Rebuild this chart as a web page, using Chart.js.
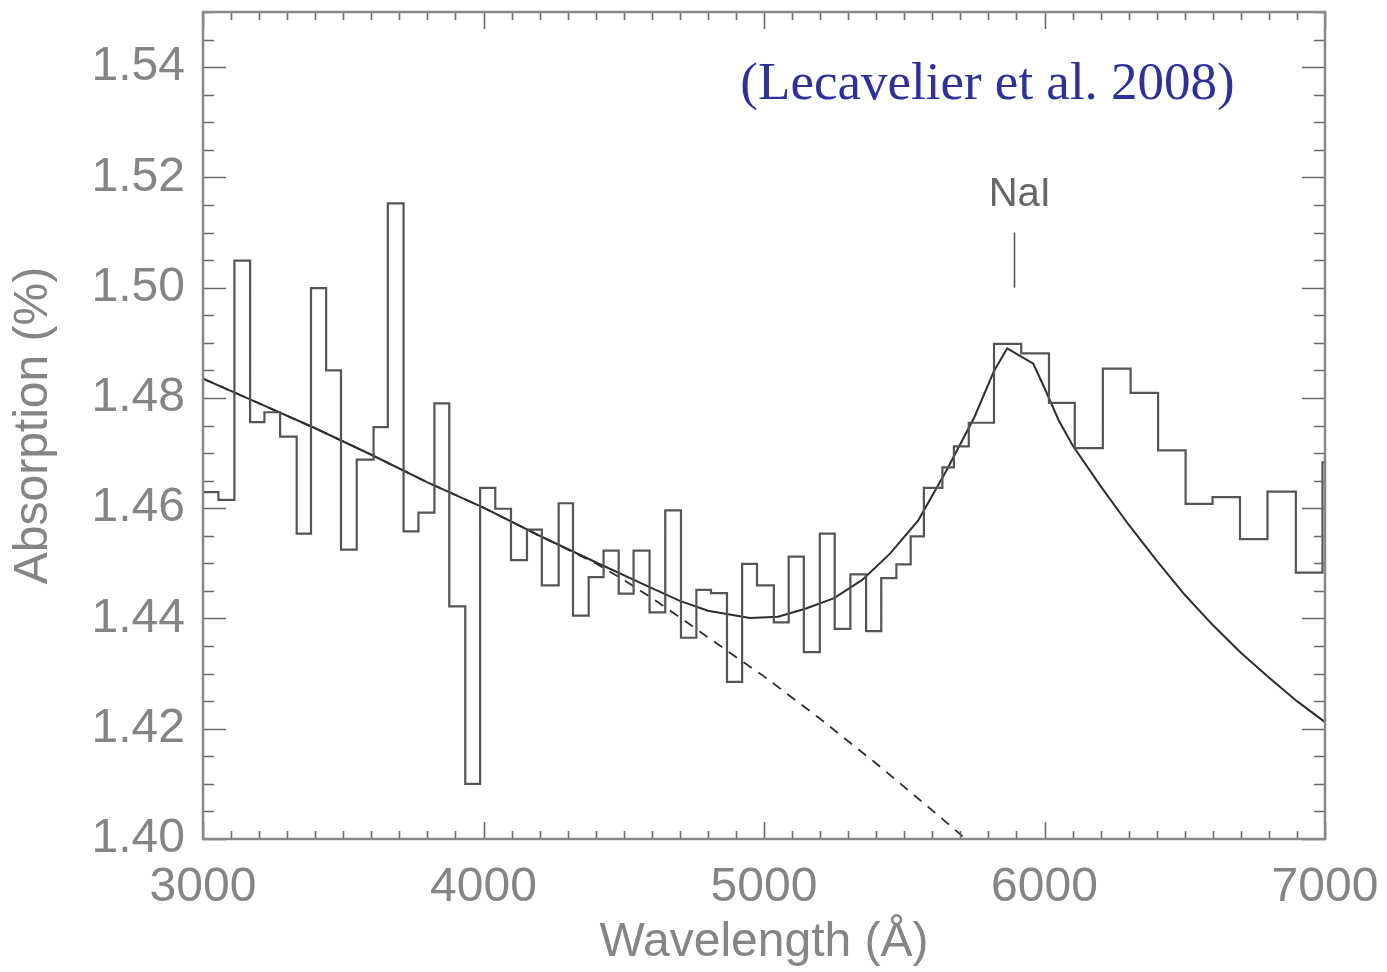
<!DOCTYPE html>
<html>
<head>
<meta charset="utf-8">
<script src="https://cdn.jsdelivr.net/npm/chart.js@4/dist/chart.umd.min.js"></script>
<style>
html, body { margin: 0; padding: 0; background: #fff; }
</style>
</head>
<body>
<canvas id="canvasAbs" width="1387" height="972"></canvas>
<script>
"use strict";

// observed spectrum: bin edges (Angstrom) and absorption per bin (%)
var binEdges = [2945, 2998, 3055, 3112, 3168, 3219, 3275, 3334, 3385, 3439, 3492,
	3548, 3608, 3659, 3715, 3768, 3825, 3878, 3935, 3988, 4042,
	4098, 4155, 4208, 4268, 4319, 4375, 4428, 4482, 4535, 4592,
	4648, 4704, 4759, 4811, 4868, 4922, 4975, 5035, 5088, 5142,
	5199, 5252, 5308, 5364, 5418, 5472, 5523, 5570, 5636, 5677,
	5730, 5820, 5917, 6016, 6108, 6208, 6307, 6405, 6503, 6599,
	6697, 6795, 6896, 6991, 7050];
var binValues = [1.4452, 1.4629, 1.4615, 1.5049, 1.4756, 1.4774, 1.4730, 1.4554, 1.4999, 1.4850,
	1.4525, 1.4688, 1.4747, 1.5153, 1.4558, 1.4592, 1.4790, 1.4422, 1.4100, 1.4637,
	1.4599, 1.4506, 1.4561, 1.4460, 1.4609, 1.4405, 1.4475, 1.4523, 1.4445, 1.4523,
	1.4411, 1.4596, 1.4365, 1.4452, 1.4446, 1.4285, 1.4499, 1.4460, 1.4393, 1.4512,
	1.4339, 1.4554, 1.4381, 1.4480, 1.4377, 1.4473, 1.4498, 1.4549, 1.4637, 1.4674,
	1.4712, 1.4755, 1.4898, 1.4881, 1.4791, 1.4709, 1.4853, 1.4809, 1.4705, 1.4608,
	1.4620, 1.4544, 1.4630, 1.4483, 1.4683];

// model with Na I (solid)
var modelWave = [3000, 3200, 3400, 3600, 3800, 4000, 4200, 4400, 4600, 4700,
	4800, 4950, 5050, 5150, 5250, 5350, 5450, 5550, 5650, 5750,
	5820, 5867, 5960, 6000, 6050, 6100, 6200, 6300, 6400, 6500,
	6600, 6700, 6800, 6900, 7000];
var modelAbs = [1.4835, 1.4790, 1.4745, 1.4697, 1.4647, 1.4601, 1.4550, 1.4502, 1.4455, 1.4432,
	1.4414, 1.4401, 1.4403, 1.4418, 1.4437, 1.4470, 1.4518, 1.4578, 1.4668, 1.4765,
	1.4849, 1.4890, 1.4862, 1.4818, 1.4760, 1.4714, 1.4640, 1.4570, 1.4505, 1.4443,
	1.4388, 1.4338, 1.4293, 1.4250, 1.4212];

// model without Na I (dashed)
var noNaWave = [3000, 3200, 3400, 3600, 3800, 4000, 4200, 4400, 4500, 4600,
	4700, 4800, 4900, 5000, 5200, 5400, 5600, 5800];
var noNaAbs = [1.4835, 1.4790, 1.4745, 1.4697, 1.4647, 1.4601, 1.4550, 1.4500, 1.4470, 1.4437,
	1.4402, 1.4366, 1.4330, 1.4295, 1.4218, 1.4137, 1.4052, 1.3965];

var xTickValues = [3000, 4000, 5000, 6000, 7000];
var yTickValues = [1.40, 1.42, 1.44, 1.46, 1.48, 1.50, 1.52, 1.54];

var lineLabel = 'NaI';
var lineWave = 5890;
var refText = '(Lecavelier et al. 2008)';

function ToPoints(xs, ys) {
	var pts = [];
	for (var i = 0; i < ys.length; i++) {
		pts.push({ x: xs[i], y: ys[i] });
	}
	return pts;
}

function HistPoints(edges, values) {
	var pts = ToPoints(edges, values);
	// closing point at the right edge of the last bin
	pts.push({ x: edges[values.length], y: values[values.length - 1] });
	return pts;
}

var axisFont = { family: "'Liberation Sans', Arial, sans-serif", size: 48 };
var titleFont = { family: "'Liberation Sans', Arial, sans-serif", size: 48 };
var grey = '#858585';

// inward ticks on all four sides, plot frame and annotations
var frameTicks = {
	id: 'frameTicks',
	afterDatasetsDraw: function (chart) {
		var ctx = chart.ctx;
		var a = chart.chartArea;
		var xs = chart.scales.x;
		var ys = chart.scales.y;
		ctx.save();

		ctx.strokeStyle = '#6a6a6a';
		ctx.lineWidth = 1.6;
		ctx.beginPath();
		for (var k = 0; k <= 40; k++) {
			var px = Math.round(xs.getPixelForValue(3000 + k * 100)) + 0.5;
			var lx = (k % 10 === 0) ? 17 : 8;
			ctx.moveTo(px, a.bottom); ctx.lineTo(px, a.bottom - lx);
			ctx.moveTo(px, a.top); ctx.lineTo(px, a.top + lx);
		}
		for (var j = 0; j <= 30; j++) {
			var py = Math.round(ys.getPixelForValue(1.40 + j * 0.005)) + 0.5;
			var ly = (j % 4 === 0) ? 23 : 11;
			ctx.moveTo(a.left, py); ctx.lineTo(a.left + ly, py);
			ctx.moveTo(a.right, py); ctx.lineTo(a.right - ly, py);
		}
		ctx.stroke();

		ctx.strokeStyle = '#888';
		ctx.lineWidth = 2.5;
		ctx.strokeRect(a.left, a.top, a.right - a.left, a.bottom - a.top);

		// Na I marker
		var nx = Math.round(xs.getPixelForValue(lineWave)) + 0.5;
		ctx.strokeStyle = '#555';
		ctx.lineWidth = 1.6;
		ctx.beginPath();
		ctx.moveTo(nx, ys.getPixelForValue(1.510));
		ctx.lineTo(nx, ys.getPixelForValue(1.500));
		ctx.stroke();

		ctx.fillStyle = '#666';
		ctx.font = "40px 'Liberation Sans', Arial, sans-serif";
		ctx.textAlign = 'center';
		ctx.textBaseline = 'alphabetic';
		ctx.fillText(lineLabel, xs.getPixelForValue(5912), ys.getPixelForValue(1.5148));

		ctx.fillStyle = '#30309a';
		ctx.font = "53px 'Liberation Serif', 'Times New Roman', serif";
		ctx.fillText(refText, xs.getPixelForValue(5797), ys.getPixelForValue(1.5343));
		ctx.restore();
	}
};

var chart = new Chart(document.getElementById('canvasAbs'), {
	type: 'scatter',
	data: {
		datasets: [{
			label: 'Observed',
			data: HistPoints(binEdges, binValues),
			showLine: true,
			stepped: 'before',
			borderColor: '#555',
			borderWidth: 2.2,
			pointRadius: 0,
			clip: 0
		}, {
			label: 'Model with Na I',
			data: ToPoints(modelWave, modelAbs),
			showLine: true,
			borderColor: '#2e2e2e',
			borderWidth: 2,
			pointRadius: 0,
			clip: 0
		}, {
			label: 'Model without Na I',
			data: ToPoints(noNaWave, noNaAbs),
			showLine: true,
			borderColor: '#2e2e2e',
			borderWidth: 1.8,
			borderDash: [10, 8],
			pointRadius: 0,
			clip: 0
		}]
	},
	options: {
		responsive: false,
		animation: false,
		devicePixelRatio: 1,
		layout: { padding: { top: 12, right: 62, left: 0, bottom: 0 } },
		plugins: {
			legend: { display: false },
			tooltip: { enabled: false }
		},
		scales: {
			x: {
				type: 'linear',
				min: 3000,
				max: 7000,
				grid: { display: false, drawTicks: false },
				border: { display: false },
				afterBuildTicks: function (scale) {
					scale.ticks = xTickValues.map(function (v) { return { value: v }; });
				},
				afterFit: function (scale) {
					scale.height = 133;
					scale.paddingLeft = 0;
					scale.paddingRight = 0;
				},
				ticks: {
					color: grey,
					font: axisFont,
					padding: 20,
					maxRotation: 0,
					callback: function (v) { return String(v); }
				},
				title: {
					display: true,
					text: 'Wavelength (Å)',
					color: grey,
					font: titleFont,
					padding: 0
				}
			},
			y: {
				type: 'linear',
				min: 1.40,
				max: 1.55,
				grid: { display: false, drawTicks: false },
				border: { display: false },
				afterBuildTicks: function (scale) {
					scale.ticks = yTickValues.map(function (v) { return { value: v }; });
				},
				afterFit: function (scale) {
					scale.width = 203;
					scale.paddingTop = 0;
					scale.paddingBottom = 0;
				},
				ticks: {
					color: grey,
					font: axisFont,
					padding: 18,
					callback: function (v) { return Number(v).toFixed(2); }
				},
				title: {
					display: true,
					text: 'Absorption (%)',
					color: grey,
					font: titleFont,
					padding: { top: 5, bottom: 0 }
				}
			}
		}
	},
	plugins: [frameTicks]
});
</script>
</body>
</html>
